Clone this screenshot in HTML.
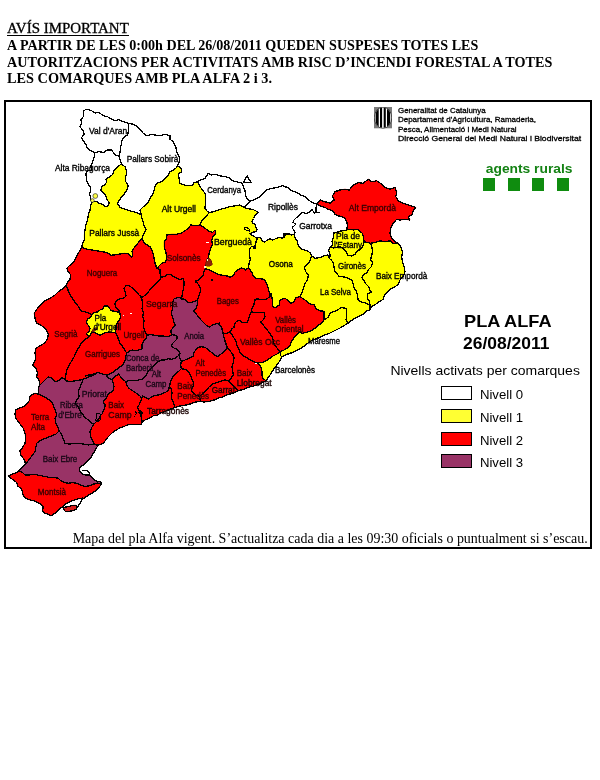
<!DOCTYPE html>
<html><head><meta charset="utf-8">
<style>
html,body{margin:0;padding:0;background:#fff;}
body{width:600px;height:780px;position:relative;overflow:hidden;font-family:"Liberation Sans",sans-serif;color:#000;}
#all{position:absolute;left:0;top:0;width:600px;height:780px;will-change:transform;}
#frame{position:absolute;left:4px;top:100px;width:584px;height:445px;border:2px solid #000;}
svg{position:absolute;left:0;top:0;}
svg text{font-family:"Liberation Sans",sans-serif;}
svg .ml text{font-size:8.4px;}
svg text.s{font-family:"Liberation Serif",serif;}
.sq{position:absolute;top:178.3px;width:12px;height:12.5px;background:#0f8c0f;}
.lb{position:absolute;left:441.3px;width:29px;height:12px;border:1px solid #000;}
</style></head><body><div id="all">
<div id="frame"></div>
<div class="sq" style="left:483.3px"></div><div class="sq" style="left:507.7px"></div><div class="sq" style="left:532.1px"></div><div class="sq" style="left:556.6px"></div>
<div class="lb" style="top:386.4px;background:#fff"></div>
<div class="lb" style="top:409.2px;background:#ffff33"></div>
<div class="lb" style="top:431.7px;background:#ff0000"></div>
<div class="lb" style="top:454.4px;background:#993366"></div>
<svg id="map" width="600" height="780" viewBox="0 0 600 780">
<path d="M128.3,123.3 123.3,121.7 118.3,119.7 115,120.8 111.7,119.2 107.5,116.7 103.3,115.8 99.2,112.5 95,113 91.7,110.8 86.7,109.2 83.3,110.8 83.3,116.7 80.8,120 81.7,123.3 80,126.7 83.3,130.8 84.2,134.2 81.7,137.5 83.3,140.8 85.8,144.2 87.5,148.3 90.8,150.8 95,152.5 99.2,151.7 103.3,152.5 107.5,150 111.7,150 115,155 119.2,156.3 120,151.7 120.8,146.7 121.7,141.7 123.3,137.5 127.5,135 128.7,130Z M128.3,123.3 128.7,130 127.5,135 123.3,137.5 121.7,141.7 120.8,146.7 120,151.7 119.2,156.3 120.8,162.5 121.7,164.2 125,166.7 126.7,171.7 125.8,176.7 125.8,181.7 128.3,185.8 126.7,190.8 123.3,195 120,199.2 117.5,203.3 120,207.5 125,209.2 130,210.8 135.8,212.5 140,214.2 141.5,214.8 140,210 143.3,206.7 147.5,203.3 150,198.3 153.3,193.3 155,186.7 156.7,183.3 161.7,181.7 165,178.3 168.3,175 170,171.7 172.5,170.8 175.8,168.3 177.5,165.8 179.2,162.5 179.2,156.7 176.7,151.7 175.8,146.7 173.3,141.7 170,139.2 170,135.8 165,134.2 160,135.8 155,135 151.7,134.2 146.7,135.8 143.3,133.3 140.8,130 137.5,126.7 133.3,124.2Z M119.2,156.3 115,155 111.7,150 107.5,150 103.3,152.5 99.2,151.7 95,152.5 94.2,156.7 92.5,162.5 90.8,165.8 91.7,170 87.5,170.8 85.8,174.2 86.2,175.8 86.7,180.8 88.3,184.2 90.4,187.5 90.4,191.7 89.2,195 90.8,195.8 90.7,199.2 91.7,202.1 95.8,201.2 99.2,203.3 102.5,204.2 105.8,206.7 108.3,205.8 109.2,202.5 106.7,199.2 105.8,195.8 103.3,192.5 100.8,190 102.1,186.2 105,185 106.7,181.7 105.8,179.2 109.2,177.1 112.5,174.6 114.2,170 118.3,165.8 121.7,164.2 120.8,162.5Z M250.6,201 247.5,199.2 245.8,195.8 245,190.8 243.3,186.7 242.5,183.3 240,182.5 235.8,181.7 232.5,180.8 229.2,177.5 225,176.7 220,175.8 215.8,174.2 211.7,175 208.3,173.3 205,178.3 200.8,180 197.5,181.7 199.2,185 201.7,189.2 205,193.3 205.8,198.3 205.3,203.3 205,208.3 207.5,211.7 209.2,212.5 213.3,211.7 218.3,210 224.2,208.3 230,206.7 235,205.8 240,205 244.2,207.3 248.3,203.3Z M250.6,201 248.3,203.3 244.2,207.3 247,208.5 250,209 253,209.5 256,211 258.5,212.5 256.5,213.5 254.5,216 253.5,218.5 252,221 252.5,223.5 255,224 255.5,227 257,229.5 256.5,231.5 254,232 251.5,233 250,233.5 251.5,235 254,236.5 256.8,238 259.5,237.5 261.5,239 262.5,241.5 265,242 267,240 270,239 273,240 276,238.5 279,237.5 282,238 284,237.5 284.5,234.5 287,234 290,234 291.7,235 294.2,234 295,232.5 293.5,230 292,227 294,226 296,224 293,222.5 294,220 296.5,217.5 299,215.5 301,213 303.5,212.5 306,213.5 309.5,212 311,210 312.5,210 314,213 316,212.5 316,208 316.5,204.2 312.5,202.5 308.3,200 305,196.7 300.8,195 296.7,192.5 291.7,190.8 287.5,187.5 282.5,185.8 277.5,187.5 271.7,188.3 266.7,190 264.2,192.5 260,196.7 255,199.2Z M247,175.8 243.3,182.5 251.3,182.8Z M316.5,204.2 316,208 316,212.5 314,213 312.5,210 311,210 309.5,212 306,213.5 303.5,212.5 301,213 299,215.5 296.5,217.5 294,220 293,222.5 296,224 294,226 292,227 293.5,230 295,232.5 294.2,234 295,237.5 297.5,241.7 298.3,245.8 301.7,249.2 306.7,250.8 310,252.5 311.7,255.8 315,258.3 320,257.5 324.2,255.8 327.5,255 329.2,257.5 329.7,259.3 330,254.7 328.7,250.7 330,247.3 332.7,245.3 332,241.3 333.3,237.3 334,232.7 338,232 342,230.7 346.7,230 347.5,225.8 346.7,221.7 345,218.3 341.7,216.7 338.3,215.8 335,214.2 332.5,210.8 328.3,209.2 325,207.5 320,206Z" fill="#ffffff" stroke="#ffffff" stroke-width="0.7"/>
<path d="M121.7,164.2 118.3,165.8 114.2,170 112.5,174.6 109.2,177.1 105.8,179.2 106.7,181.7 105,185 102.1,186.2 100.8,190 103.3,192.5 105.8,195.8 106.7,199.2 109.2,202.5 108.3,205.8 105.8,206.7 102.5,204.2 99.2,203.3 95.8,201.2 91.7,202.1 90.8,205 90,210 88.3,215 87.5,220 85.8,225 85,230 84.2,235 84.2,240 82.5,244.2 81.7,247.5 86.7,249.2 91.7,250 96.7,250.8 100,251.3 104,252 108,253.3 111.3,255.3 116,254.7 120,254 124.7,253.3 128.7,254 131.3,257.3 132.7,255.3 132,251.3 134,248 136.7,244.7 139.3,241.3 142,239 142.7,236 144.7,232.7 146,229.3 144,226 143.3,222 142,218.7 141.5,214.8 140,214.2 135.8,212.5 130,210.8 125,209.2 120,207.5 117.5,203.3 120,199.2 123.3,195 126.7,190.8 128.3,185.8 125.8,181.7 125.8,176.7 126.7,171.7 125,166.7Z M197.5,181.7 194.2,182.5 192.5,185 188.3,185.8 184.2,185 180,183.3 179.2,179.2 178.3,174.2 181.7,171.7 180.8,167.5 177.5,165.8 175.8,168.3 172.5,170.8 170,171.7 168.3,175 165,178.3 161.7,181.7 156.7,183.3 155,186.7 153.3,193.3 150,198.3 147.5,203.3 143.3,206.7 140,210 141.5,214.8 142,218.7 143.3,222 144,226 146,229.3 144.7,232.7 142.7,236 142,239 144,242.7 146.7,244.7 150,246.7 152,250 153.3,254 154,258 154.7,262 156,266 157,268.3 159.2,265.8 161.7,263.3 165.8,261.7 166.7,257.5 165.8,251.7 164.2,246.7 164.2,241.7 166.7,239.2 166.7,235 171.7,234.2 176.7,234.2 180.8,233.3 185,230.8 188.3,228.3 190.8,225 195.8,225.8 200,225 201.7,220.8 204.2,218.3 206.7,215.8 209.2,212.5 207.5,211.7 205,208.3 205.3,203.3 205.8,198.3 205,193.3 201.7,189.2 199.2,185Z M244.2,207.3 240,205 235,205.8 230,206.7 224.2,208.3 218.3,210 213.3,211.7 209.2,212.5 206.7,215.8 204.2,218.3 201.7,220.8 200,225 204.2,227.5 208.3,230.8 212.5,232.5 215,230 215.8,233.3 213.3,235.8 211.7,240 212.5,244.2 210.8,248.3 209.2,253.3 208.3,257.5 206.7,261.7 205.8,265.8 205.5,268.5 209,270 212.3,271.3 215.7,273.3 219,274.7 223,275.3 227,276 230.3,277.3 233.7,275.3 235,272 237.7,270 241,268 243.7,268.7 245.7,270 248.3,267.8 249,264 250.3,260 249.7,256 249.5,255 249.5,251 250,248 251.5,246.5 254,247 255.5,244.5 256,242 257,239.5 256.8,238 254,236.5 251.5,235 250,233.5 251.5,233 254,232 256.5,231.5 257,229.5 255.5,227 255,224 252.5,223.5 252,221 253.5,218.5 254.5,216 256.5,213.5 258.5,212.5 256,211 253,209.5 250,209 247,208.5Z M294.2,234 291.7,235 290,234 287,234 284.5,234.5 284,237.5 282,238 279,237.5 276,238.5 273,240 270,239 267,240 265,242 262.5,241.5 261.5,239 259.5,237.5 256.8,238 257,239.5 256,242 255.5,244.5 254,247 251.5,246.5 250,248 249.5,251 249.5,255 249.7,256 250.3,260 249,264 248.3,267.8 250.3,270 252.3,273.3 253.7,276.7 256.3,278.7 260.3,278.7 264.3,279.3 266.3,282.7 267.7,286.7 269,291.3 270.018,294.981 270.8,293.3 272.5,300 272.5,306.7 275.8,307.5 279.2,305 280,300 285,298.3 288.3,300.8 290.8,303.3 294.2,301.7 295.8,297.5 300,296.7 301.7,293.3 303.3,288.3 305,283.3 307.5,280 308.3,275 305.8,271.7 304.2,267.5 307.5,264.2 310,260.8 311.7,255.8 310,252.5 306.7,250.8 301.7,249.2 298.3,245.8 297.5,241.7 295,237.5Z M329.7,259.3 329.2,257.5 327.5,255 324.2,255.8 320,257.5 315,258.3 311.7,255.8 310,260.8 307.5,264.2 304.2,267.5 305.8,271.7 308.3,275 307.5,280 305,283.3 303.3,288.3 301.7,293.3 300,296.7 305,300 310,304 314,304.7 316,308.7 319.3,310.7 324,311.3 324,315.3 324,320 326,318.7 328.7,316.7 330,313.3 332,312 335.3,311.3 338.7,309.3 341.3,307.3 346.7,308.7 346.7,312 346.7,316 346,320 348,323.3 351.3,320.7 355.3,318 359.3,316 363.3,314 367.3,310.7 370,309.7 370,305.3 368.7,304.7 365.3,302.7 361.3,302 358,300 358,298.7 357.3,294.7 356,290.7 354,288 353.3,284 352,280 348.7,278.7 345.3,277.3 342,276.7 338.7,276 336.7,273.3 334.7,270.7 334,266.7 333.3,262.7 331.3,260Z M346.7,230 342,230.7 338,232 334,232.7 333.3,237.3 332,241.3 332.7,245.3 330,247.3 333.3,248 336.7,247.3 340,246.7 343.3,248.7 346,251.3 348,255.3 351.3,256 354.7,254.7 356.7,251.3 359.3,250 362.7,246.7 364.2,241.7 363.3,236.7 362.5,233.3 360,231.7 357.5,229.2 353.3,230 349.2,229.2Z M330,247.3 328.7,250.7 330,254.7 329.7,259.3 331.3,260 333.3,262.7 334,266.7 334.7,270.7 336.7,273.3 338.7,276 342,276.7 345.3,277.3 348.7,278.7 352,280 353.3,284 354,288 356,290.7 357.3,294.7 358,298.7 358,300 361.3,302 365.3,302.7 368.7,304.7 370,305.3 369.3,301.3 367.3,298 367.3,294 371.3,292 370,290.7 368.7,286.7 366,284 364,280.7 362,278 363.3,274.7 367.3,272.7 368.7,269.3 371.3,266.7 372.7,262.7 370.7,260 371.3,256 372.7,252 372,248 370.7,243.3 367.5,242.5 364.2,241.7 362.7,246.7 359.3,250 356.7,251.3 354.7,254.7 351.3,256 348,255.3 346,251.3 343.3,248.7 340,246.7 336.7,247.3 333.3,248Z M398.3,243.3 393.3,243.3 390,240.8 385,241.7 380,240.8 375,242.5 370.7,243.3 372,248 372.7,252 371.3,256 370.7,260 372.7,262.7 371.3,266.7 368.7,269.3 367.3,272.7 363.3,274.7 362,278 364,280.7 366,284 368.7,286.7 370,290.7 371.3,292 367.3,294 367.3,298 369.3,301.3 370,305.3 370,309.7 371.7,306.7 375.8,304.2 379.2,301.7 383.3,299.2 384.2,295.8 386.7,292.5 390,289.2 394.2,287.5 398.3,284.2 400,280 403.3,275.8 405,271.7 404.2,266.7 402.5,261.7 401.7,256.7 402.5,251.7 400.8,246.7Z M348,323.3 346,320 346.7,316 346.7,312 346.7,308.7 341.3,307.3 338.7,309.3 335.3,311.3 332,312 330,313.3 328.7,316.7 326,318.7 324,320 322.7,322 319.3,324.7 316,327.3 312.7,330 309.3,331.3 305.3,332.7 302,333.3 300,331.3 298,333.3 295.3,336 293.3,338.7 291.3,342 290,345.3 287.3,348 284,350 281.3,351.3 280,352.4 280.8,355.8 282,356.7 284.7,355.3 288,354 292,352.7 296,350.7 300,348.7 303.3,346.7 306.7,344 309.3,342 312.7,340 316,338.7 320,337.3 324,335.3 328,334 332,332 336,330 340,328 343.3,326Z M115.3,332.4 116,329.3 116,326 117.3,322.7 119.3,320 120.7,316.7 120,314 118,312 114.7,311.3 111.3,310.7 109.3,308 107.3,306 104,306 102.7,308.7 100,310 97.3,312 94,312.7 92,314.7 90.7,317.3 88,318.7 86.7,321.3 86.7,323.3 88.7,326 90,328.7 89.3,331.3 86.7,333.3 87.3,335.3 89.3,336.7 90.7,334 92,332 94.7,332.7 97.3,334 100,335.3 102.7,334 105.3,332.7 108.7,332 112,332.7Z M266,380.7 267.5,378.3 270,375 272.5,370.8 275.8,366.7 279.2,361.7 282,356.7 280.8,355.8 280,352.4 276.7,354.2 273.3,355.8 270,358.3 265.8,360.8 262.5,362.5 256.5,363 259.3,364.7 261.3,368 262,372 262,376 263.3,378.7Z" fill="#ffff00" stroke="#ffff00" stroke-width="0.7"/>
<path d="M316.5,204.2 320,206 325,207.5 328.3,209.2 332.5,210.8 335,214.2 338.3,215.8 341.7,216.7 345,218.3 346.7,221.7 347.5,225.8 346.7,230 349.2,229.2 353.3,230 357.5,229.2 360,231.7 362.5,233.3 363.3,236.7 364.2,241.7 367.5,242.5 370.7,243.3 375,242.5 380,240.8 385,241.7 390,240.8 393.3,243.3 398.3,243.3 395,241.7 391.7,238.3 390,233.3 390.8,228.3 393.3,223.3 396.7,219.2 400,220 405,219.2 410,220 408.3,216.7 411.7,215 413.3,210.8 415.8,207.5 413.3,206.7 408.3,205 403.3,203.3 398.3,200.8 395.8,196.7 396.7,191.7 395,187.5 390,189.2 385,187.5 381.7,184.2 376.7,180.8 371.7,181.7 368.3,179.2 363.3,183.3 358.3,182.5 353.3,185 349.2,190 345,189.2 340,190 335,191.7 332.5,195.8 334.2,200 330,203.3 325,201.7 320,200Z M324,320 324,315.3 324,311.3 319.3,310.7 316,308.7 314,304.7 310,304 305,300 300,296.7 295.8,297.5 294.2,301.7 290.8,303.3 288.3,300.8 285,298.3 280,300 279.2,305 275.8,307.5 272.5,306.7 272.5,300 270.8,293.3 270.018,294.981 270.3,296 268.8,297.6 265.5,299.3 260.8,299.9 257.3,298.8 255,299.9 254.4,302.8 253.3,306.3 251.5,309.8 251.3,311.6 253.8,312.8 258.5,312.8 264.3,312.8 264.9,316.3 263.2,319.8 260.8,322.1 263.2,325 265.5,327.9 267.8,330.8 270.2,333.8 271.9,336.7 273.1,339.6 273.7,342.5 274.8,345.4 277.2,348.3 279.5,350.7 280,352.4 281.3,351.3 284,350 287.3,348 290,345.3 291.3,342 293.3,338.7 295.3,336 298,333.3 300,331.3 302,333.3 305.3,332.7 309.3,331.3 312.7,330 316,327.3 319.3,324.7 322.7,322Z M248.3,267.8 245.7,270 243.7,268.7 241,268 237.7,270 235,272 233.7,275.3 230.3,277.3 227,276 223,275.3 219,274.7 215.7,273.3 212.3,271.3 209,270 205.5,268.5 204,271 203.3,275 201.3,277.7 198.7,279.7 195.3,281.7 197.3,283 199.3,285.7 200.7,289 200,293 198.7,296.3 197.3,300.3 197.3,304.3 196,308.3 193.3,311 196,313.7 198.7,317 201.3,320.3 204,323 206.7,325.7 209.3,327 212.7,325 216,323.7 220,323 218.7,324 221.3,326.7 222.7,331.3 223.1,333.3 227,333.2 230,331.6 231.7,329.1 234,327.3 234.6,324.4 236.3,321.5 239.3,320.3 241.6,322.1 243.9,322.7 247.4,322.1 248.6,319.2 249.8,315.1 251.3,311.6 251.5,309.8 253.3,306.3 254.4,302.8 255,299.9 257.3,298.8 260.8,299.9 265.5,299.3 268.8,297.6 270.018,294.981 269,291.3 267.7,286.7 266.3,282.7 264.3,279.3 260.3,278.7 256.3,278.7 253.7,276.7 252.3,273.3 250.3,270Z M142,239 139.3,241.3 136.7,244.7 134,248 132,251.3 132.7,255.3 131.3,257.3 128.7,254 124.7,253.3 120,254 116,254.7 111.3,255.3 108,253.3 104,252 100,251.3 96.7,250.8 91.7,250 86.7,249.2 81.7,247.5 79.2,251.7 76.7,255.8 75,260 72.5,263.3 69.2,265.8 66.7,268.3 68.3,271.7 70.8,275 70,279.2 67.5,282.5 66.3,285.3 68,290 70,294.7 72.7,298.7 75.3,302.7 78,306 80,309.3 82,311.3 85.3,312 88.7,312.9 92,314.7 94,312.7 97.3,312 100,310 102.7,308.7 104,306 107.3,306 109.3,308 111.3,310.7 114.7,311.3 118,312 120,314 118.7,310 116,307.3 114.7,304 116.7,300.7 120,298.7 124,298 126,296 125.3,292 124,288.7 126,285.3 129.3,286 132.7,288 136,291.3 138.7,294.7 140.9,296.7 142.7,297 145.3,295 148,292.3 150.7,289 153.3,286.3 156,283.7 158.7,281 161.3,277.7 160.7,276.3 160,273 160,269.7 157,268.3 156,266 154.7,262 154,258 153.3,254 152,250 150,246.7 146.7,244.7 144,242.7Z M200,225 195.8,225.8 190.8,225 188.3,228.3 185,230.8 180.8,233.3 176.7,234.2 171.7,234.2 166.7,235 166.7,239.2 164.2,241.7 164.2,246.7 165.8,251.7 166.7,257.5 165.8,261.7 161.7,263.3 159.2,265.8 157,268.3 160,269.7 160,273 160.7,276.3 161.3,277.7 164.7,276.3 168,274.3 171.3,275 174,277 177.3,278.3 180,279.7 182.7,278.3 184,281 184,285 183.3,289 182.7,292.3 182,295.7 181.6,298.3 184.7,299.7 187.3,301.7 190,303 192.7,301.7 195.3,301 197.3,300.3 198.7,296.3 200,293 200.7,289 199.3,285.7 197.3,283 195.3,281.7 198.7,279.7 201.3,277.7 203.3,275 204,271 205.5,268.5 205.8,265.8 206.7,261.7 208.3,257.5 209.2,253.3 210.8,248.3 212.5,244.2 211.7,240 213.3,235.8 215.8,233.3 215,230 212.5,232.5 208.3,230.8 204.2,227.5Z M181.6,298.3 182,295.7 182.7,292.3 183.3,289 184,285 184,281 182.7,278.3 180,279.7 177.3,278.3 174,277 171.3,275 168,274.3 164.7,276.3 161.3,277.7 158.7,281 156,283.7 153.3,286.3 150.7,289 148,292.3 145.3,295 142.7,297 140.9,296.7 142,300 142.7,304.7 142,308.7 143.3,312.7 142.7,316.7 144,320.7 143.3,324.7 144,328.7 145.3,332 147.3,335 151.3,334.7 155.3,335.3 159.3,336 163.3,336 167.3,336.7 170,336 172,334.7 171.3,333.3 170.7,330.7 172.7,328 175.3,325.3 174,322.3 173.3,319 172,315.7 171.3,312.3 172.7,309 172,305.7 172.7,302.3 174,299 176.7,297.7 179.3,297.7Z M92,314.7 88.7,312.9 85.3,312 82,311.3 80,309.3 78,306 75.3,302.7 72.7,298.7 70,294.7 68,290 66.3,285.3 63.3,288.3 58.3,291.7 55,295 50,298.3 45,300.8 41.7,304.2 37.5,308.3 34.2,313.3 35,318.3 36.7,323.3 41.7,325.8 45.8,329.2 48.3,334.2 47.5,339.2 44.2,343.3 40,345.8 35.8,348.3 35,353.3 35.8,358.3 34.2,362.5 32.5,365 35.8,368.3 37.5,372.5 36.7,376.7 39.2,380.8 40,384.2 39.2,385.8 42.5,382.5 45.8,379.2 48.3,376.7 51.7,378.3 55,381.7 58.3,380.8 61.7,377.5 65,379.2 65.8,380.8 65.8,375 66.7,370 69.2,365 71.7,360.8 74.2,356.7 75.8,352.5 78.3,348.3 80.8,344.2 83.3,340.8 86.7,338.3 89.3,336.7 87.3,335.3 86.7,333.3 89.3,331.3 90,328.7 88.7,326 86.7,323.3 86.7,321.3 88,318.7 90.7,317.3Z M140.9,296.7 138.7,294.7 136,291.3 132.7,288 129.3,286 126,285.3 124,288.7 125.3,292 126,296 124,298 120,298.7 116.7,300.7 114.7,304 116,307.3 118.7,310 120,314 120.7,316.7 119.3,320 117.3,322.7 116,326 116,329.3 115.3,332.4 117.3,336 118.7,340 120,343.3 122.7,346.7 124.7,350 126.7,353 129.3,351.3 132,350 135.3,350.7 138.7,350 142,348.7 142,344.7 143.3,341.3 146,338.7 147.3,335 145.3,332 144,328.7 143.3,324.7 144,320.7 142.7,316.7 143.3,312.7 142,308.7 142.7,304.7 142,300Z M115.3,332.4 112,332.7 108.7,332 105.3,332.7 102.7,334 100,335.3 97.3,334 94.7,332.7 92,332 90.7,334 89.3,336.7 86.7,338.3 83.3,340.8 80.8,344.2 78.3,348.3 75.8,352.5 74.2,356.7 71.7,360.8 69.2,365 66.7,370 65.8,375 65.8,380.8 70,381.7 75,380.8 80,380 83.3,379.2 87.5,377.5 91.7,375.8 95.8,374.2 85.3,376 89.3,374.9 93.3,374 96,373.3 98,372 100,373.3 103.3,374.4 106.7,374.9 109.2,374.2 112.5,372.5 115.8,370 119.2,367.5 122.5,365 125,360.8 125.8,355.8 126.7,353 124.7,350 122.7,346.7 120,343.3 118.7,340 117.3,336Z M126,382 124.7,380.7 122,378.7 120,376 118.7,374 116.7,375.3 114,377.3 112,379.7 113.3,383.3 114,386.7 113.3,390 111.3,392 108.7,393.3 107.3,396 106,398.7 104,400.7 103.3,402.7 105.3,404.7 104.7,408 103.3,411.3 102,414 100,416 98.7,418.7 97.3,420.7 95.3,422.7 94,424 91.7,427.5 90,431.7 90.8,436.7 92.5,440.8 94.2,444.2 95.8,444.7 98,445.3 103.3,443.3 105.8,440 108.3,436.7 111.7,433.3 115,430.8 119.2,428.3 123.3,426.7 127.5,425 131.7,424.2 135.8,424.2 141,424.5 142,420.7 141.3,417.3 140.7,414 140,412 138.7,410 137.3,407.3 139.3,404.7 140.7,401.3 141.6,398 140,396 137.3,394 134.7,392 131.3,390 128.7,388 126.7,385.3Z M38.7,394.2 35.8,393.3 32.5,394.2 30,396.7 29.2,400.8 26.7,404.2 23.3,406.7 19.2,408.3 15.8,410 15,414.2 15.8,418.3 18.3,421.7 20.8,425 23.3,428.3 25,433.3 25.8,438.3 25,443.3 22.5,447.5 20,450.8 20.8,455 23.3,458.3 25,461.7 25.3,464.2 27.5,461.7 30,458.3 32.5,455 35,451.7 35.8,447.5 36.7,443.3 40,440.8 43.3,439.2 47.5,437.5 51.7,435.8 55.8,434.2 59.3,430.8 57.5,426.7 55.8,422.5 55,418.3 56.7,415 55.8,411.7 54.2,407.5 52.5,403.3 49.2,400 45.8,397.5 42.5,395.8Z M18.7,470.8 16.7,472.5 12.5,474.2 8.3,475.8 10,477.5 13.3,480 16.7,482.5 17.5,485.8 20.8,488.3 22.5,491.7 23.3,495.8 25.8,498.3 30,500 34.2,500.8 37.5,502.5 40.8,504.2 43.3,506.7 42.5,510.8 45,513.3 48.3,514.2 50.8,515.8 55,513.3 58.3,510 62.5,506.7 66.7,503.3 71.7,500.8 76.7,499.2 82.5,498 84.2,498.3 87.5,495.8 91.7,493.3 95.8,490.8 99.2,487.5 101.3,483.8 97.5,483 93.3,484.2 89.2,485.8 85,486.7 80.8,485 76.7,483.3 72.5,482.5 68.3,483.3 64.2,482.5 60.8,480.8 58.3,478.3 54.2,477.5 50,477.5 45.8,476.7 41.7,475.8 37.5,475 33.3,474.2 29.2,475 25,475 22.5,472.5Z M141,424.5 141.7,422.5 145,420 149.2,418.3 153.3,415.8 157.5,415 160,413.3 164,412 168,410 172,408.7 174.7,407.6 174,404 172.7,400.7 171.3,397.3 172,393.3 171.3,389.3 169.3,386.7 168.7,390 166,392 163.3,393.3 160,394.7 156.7,395.3 153.3,396 150.7,397.3 148.7,399.3 145.3,397.3 142.7,396 141.6,398 140.7,401.3 139.3,404.7 137.3,407.3 138.7,410 140,412 140.7,414 141.3,417.3 142,420.7Z M174.7,407.6 176,407.3 180,406 184,405.3 188,404.7 192,403.3 196,402 200.5,401 199.5,396.5 196,395.3 193.3,393.3 191.3,390.7 192.7,387.3 194,384 192.7,380.7 191.3,377.3 190,374 188,371.3 185.3,369.3 181.3,368.7 178.7,371.3 176,373.3 173.3,376 171.3,380 170,384 169.3,386.7 171.3,389.3 172,393.3 171.3,397.3 172.7,400.7 174,404Z M200.5,401 204,402 208,401.6 212,400.7 216,399.3 220,397.3 222,397.3 226,395.3 230,394 234,392.7 238.7,390.7 236,388.7 233.3,386 230.7,383.3 228.7,380.7 225.3,380 222,380.7 218.7,382 212.7,384 209.3,386.7 206.7,390 204,392.7 201.3,394.7 199.5,396.5Z M238.7,390.7 243.3,389.3 248.7,387.3 253.3,386 258,384.7 262,382.7 266,380.7 263.3,378.7 262,376 262,372 261.3,368 259.3,364.7 256.5,363 252.7,361.3 249.3,359.3 246,357.3 242.7,355.3 240,352.7 238.7,348.7 236.7,345.3 236,341.3 234,338 232,334.7 230,331.6 227,333.2 223.1,333.3 223.3,335.3 224.7,340 226,344 227.3,347.3 230,350.7 232.7,354 234,358 233.3,362.7 232,366.7 232.7,370.7 233.3,374.7 231.3,378 228.7,380.7 230.7,383.3 233.3,386 236,388.7Z M280,352.4 279.5,350.7 277.2,348.3 274.8,345.4 273.7,342.5 273.1,339.6 271.9,336.7 270.2,333.8 267.8,330.8 265.5,327.9 263.2,325 260.8,322.1 263.2,319.8 264.9,316.3 264.3,312.8 258.5,312.8 253.8,312.8 251.3,311.6 249.8,315.1 248.6,319.2 247.4,322.1 243.9,322.7 241.6,322.1 239.3,320.3 236.3,321.5 234.6,324.4 234,327.3 231.7,329.1 230,331.6 232,334.7 234,338 236,341.3 236.7,345.3 238.7,348.7 240,352.7 242.7,355.3 246,357.3 249.3,359.3 252.7,361.3 256.5,363 262.5,362.5 265.8,360.8 270,358.3 273.3,355.8 276.7,354.2Z M227.3,347.3 225.3,350.7 222,353.3 219.3,355.3 217.3,356.7 215.3,355.3 212.7,353.3 210,351.3 207.3,348.7 204.7,347.3 201.3,346.7 198.7,347.3 196,349.3 194,352.7 193.3,356 191.3,357.3 186.7,359.2 183.3,360.8 181.2,361.3 180.7,365.3 181.3,368.7 185.3,369.3 188,371.3 190,374 191.3,377.3 192.7,380.7 194,384 192.7,387.3 191.3,390.7 193.3,393.3 196,395.3 199.5,396.5 201.3,394.7 204,392.7 206.7,390 209.3,386.7 212.7,384 218.7,382 222,380.7 225.3,380 228.7,380.7 231.3,378 233.3,374.7 232.7,370.7 232,366.7 233.3,362.7 234,358 232.7,354 230,350.7Z" fill="#ff0000" stroke="#ff0000" stroke-width="0.7"/>
<path d="M197.3,300.3 195.3,301 192.7,301.7 190,303 187.3,301.7 184.7,299.7 181.6,298.3 179.3,297.7 176.7,297.7 174,299 172.7,302.3 172,305.7 172.7,309 171.3,312.3 172,315.7 173.3,319 174,322.3 175.3,325.3 172.7,328 170.7,330.7 171.3,333.3 172,334.7 175.3,335.3 177.3,336.7 176.7,339.3 174.7,341.3 172.7,343.3 171.3,346 174,348 176.7,349.3 178.7,351.3 180,352.7 179.3,356.7 181.2,361.3 183.3,360.8 186.7,359.2 191.3,357.3 193.3,356 194,352.7 196,349.3 198.7,347.3 201.3,346.7 204.7,347.3 207.3,348.7 210,351.3 212.7,353.3 215.3,355.3 217.3,356.7 219.3,355.3 222,353.3 225.3,350.7 227.3,347.3 226,344 224.7,340 223.3,335.3 223.1,333.3 222.7,331.3 221.3,326.7 218.7,324 220,323 216,323.7 212.7,325 209.3,327 206.7,325.7 204,323 201.3,320.3 198.7,317 196,313.7 193.3,311 196,308.3 197.3,304.3Z M172,334.7 170,336 167.3,336.7 163.3,336 159.3,336 155.3,335.3 151.3,334.7 147.3,335 146,338.7 143.3,341.3 142,344.7 142,348.7 138.7,350 135.3,350.7 132,350 129.3,351.3 126.7,353 125.8,355.8 125,360.8 122.5,365 119.2,367.5 115.8,370 112.5,372.5 109.2,374.2 106.7,374.9 107.3,377.3 110,378.7 112,379.7 114,377.3 116.7,375.3 118.7,374 120,376 122,378.7 124.7,380.7 126,382 128,380.7 131.3,380.3 135.3,380.7 138.7,380 142,379.3 144.7,377.3 146.7,374.7 148,371.3 150.7,368.7 153.3,366 156,363.3 158.7,361.3 161.3,360 164.7,360 168,358.7 171.3,359.3 175.3,358 178,356 180,352.7 178.7,351.3 176.7,349.3 174,348 171.3,346 172.7,343.3 174.7,341.3 176.7,339.3 177.3,336.7 175.3,335.3Z M180,352.7 178,356 175.3,358 171.3,359.3 168,358.7 164.7,360 161.3,360 158.7,361.3 156,363.3 153.3,366 150.7,368.7 148,371.3 146.7,374.7 144.7,377.3 142,379.3 138.7,380 135.3,380.7 131.3,380.3 128,380.7 126,382 126.7,385.3 128.7,388 131.3,390 134.7,392 137.3,394 140,396 141.6,398 142.7,396 145.3,397.3 148.7,399.3 150.7,397.3 153.3,396 156.7,395.3 160,394.7 163.3,393.3 166,392 168.7,390 169.3,386.7 170,384 171.3,380 173.3,376 176,373.3 178.7,371.3 181.3,368.7 180.7,365.3 181.2,361.3 179.3,356.7Z M112,379.7 110,378.7 107.3,377.3 106.7,374.9 103.3,374.4 100,373.3 98,372 96,373.3 93.3,374 89.3,374.9 85.3,376 95.8,374.2 91.7,375.8 87.5,377.5 83.3,379.2 81.7,383.3 80,387.5 78.3,391.7 79.2,396.7 76.7,400 75,403.3 78.3,406.7 80,410.8 82.5,414.2 85,417.5 88.3,420 90.8,422.5 94,424 95.3,422.7 97.3,420.7 98.7,418.7 100,416 102,414 103.3,411.3 104.7,408 105.3,404.7 103.3,402.7 104,400.7 106,398.7 107.3,396 108.7,393.3 111.3,392 113.3,390 114,386.7 113.3,383.3Z M65.8,380.8 65,379.2 61.7,377.5 58.3,380.8 55,381.7 51.7,378.3 48.3,376.7 45.8,379.2 42.5,382.5 39.2,385.8 38.3,390 38.7,394.2 42.5,395.8 45.8,397.5 49.2,400 52.5,403.3 54.2,407.5 55.8,411.7 56.7,415 55,418.3 55.8,422.5 57.5,426.7 59.3,430.8 61.7,435 63.3,439.2 65,443.3 69.2,444.2 74.2,443.3 79.2,443.3 84.2,444.2 88.3,445 94.2,444.2 92.5,440.8 90.8,436.7 90,431.7 91.7,427.5 94,424 90.8,422.5 88.3,420 85,417.5 82.5,414.2 80,410.8 78.3,406.7 75,403.3 76.7,400 79.2,396.7 78.3,391.7 80,387.5 81.7,383.3 83.3,379.2 80,380 75,380.8 70,381.7Z M98,445.3 95.8,444.7 94.2,444.2 88.3,445 84.2,444.2 79.2,443.3 74.2,443.3 69.2,444.2 65,443.3 63.3,439.2 61.7,435 59.3,430.8 55.8,434.2 51.7,435.8 47.5,437.5 43.3,439.2 40,440.8 36.7,443.3 35.8,447.5 35,451.7 32.5,455 30,458.3 27.5,461.7 25.3,464.2 22.5,466.7 20,469.2 18.7,470.8 22.5,472.5 25,475 29.2,475 33.3,474.2 37.5,475 41.7,475.8 45.8,476.7 50,477.5 54.2,477.5 58.3,478.3 60.8,480.8 64.2,482.5 68.3,483.3 72.5,482.5 76.7,483.3 80.8,485 85,486.7 89.2,485.8 93.3,484.2 97.5,483 101.3,483.8 100.8,481.7 97.5,481.7 94.2,480 91.7,477.5 89.2,475 85.8,475 82.5,474.2 80,471.7 79.2,469.2 80.8,466.7 84.2,464.2 87.5,460.8 90.8,457.5 93.3,453.3 95.8,449.2Z" fill="#993366" stroke="#993366" stroke-width="0.7"/>
<path d="M77.5,506.8 75.5,505.3 73,505.4 70.5,506.1 68,506.7 65.5,507.1 63.4,508 63.8,509.6 65.2,511.2 67.5,511.6 70.5,511.1 73.5,510.5 76.2,509Z" fill="#d81c1c" stroke="#d81c1c" stroke-width="0.7"/>
<path d="M95,152.5 90.8,150.8 87.5,148.3 85.8,144.2 83.3,140.8 81.7,137.5 84.2,134.2 83.3,130.8 80,126.7 81.7,123.3 80.8,120 83.3,116.7 83.3,110.8 86.7,109.2 91.7,110.8 95,113 99.2,112.5 103.3,115.8 107.5,116.7 111.7,119.2 115,120.8 118.3,119.7 123.3,121.7 128.3,123.3 M128.3,123.3 128.7,130 127.5,135 123.3,137.5 121.7,141.7 120.8,146.7 120,151.7 119.2,156.3 M119.2,156.3 115,155 111.7,150 107.5,150 103.3,152.5 99.2,151.7 95,152.5 M119.2,156.3 120.8,162.5 121.7,164.2 M95,152.5 94.2,156.7 92.5,162.5 90.8,165.8 91.7,170 87.5,170.8 85.8,174.2 86.2,175.8 86.7,180.8 88.3,184.2 90.4,187.5 90.4,191.7 89.2,195 90.8,195.8 90.7,199.2 91.7,202.1 M91.7,202.1 95.8,201.2 99.2,203.3 102.5,204.2 105.8,206.7 108.3,205.8 109.2,202.5 106.7,199.2 105.8,195.8 103.3,192.5 100.8,190 102.1,186.2 105,185 106.7,181.7 105.8,179.2 109.2,177.1 112.5,174.6 114.2,170 118.3,165.8 121.7,164.2 M121.7,164.2 125,166.7 126.7,171.7 125.8,176.7 125.8,181.7 128.3,185.8 126.7,190.8 123.3,195 120,199.2 117.5,203.3 120,207.5 125,209.2 130,210.8 135.8,212.5 140,214.2 141.5,214.8 M128.3,123.3 133.3,124.2 137.5,126.7 140.8,130 143.3,133.3 146.7,135.8 151.7,134.2 155,135 160,135.8 165,134.2 170,135.8 170,139.2 173.3,141.7 175.8,146.7 176.7,151.7 179.2,156.7 179.2,162.5 177.5,165.8 M177.5,165.8 180.8,167.5 181.7,171.7 178.3,174.2 179.2,179.2 180,183.3 184.2,185 188.3,185.8 192.5,185 194.2,182.5 197.5,181.7 M177.5,165.8 175.8,168.3 172.5,170.8 170,171.7 168.3,175 165,178.3 161.7,181.7 156.7,183.3 155,186.7 153.3,193.3 150,198.3 147.5,203.3 143.3,206.7 140,210 141.5,214.8 M197.5,181.7 200.8,180 205,178.3 208.3,173.3 211.7,175 215.8,174.2 220,175.8 225,176.7 229.2,177.5 232.5,180.8 235.8,181.7 240,182.5 242.5,183.3 243.3,186.7 245,190.8 245.8,195.8 247.5,199.2 250.6,201 M197.5,181.7 199.2,185 201.7,189.2 205,193.3 205.8,198.3 205.3,203.3 205,208.3 207.5,211.7 209.2,212.5 M209.2,212.5 213.3,211.7 218.3,210 224.2,208.3 230,206.7 235,205.8 240,205 244.2,207.3 M250.6,201 248.3,203.3 244.2,207.3 M247,175.8 251.3,182.8 243.3,182.5 247,175.8 M250.6,201 255,199.2 260,196.7 264.2,192.5 266.7,190 271.7,188.3 277.5,187.5 282.5,185.8 287.5,187.5 291.7,190.8 296.7,192.5 300.8,195 305,196.7 308.3,200 312.5,202.5 316.5,204.2 M244.2,207.3 247,208.5 250,209 253,209.5 256,211 258.5,212.5 256.5,213.5 254.5,216 253.5,218.5 252,221 252.5,223.5 255,224 255.5,227 257,229.5 256.5,231.5 254,232 251.5,233 250,233.5 251.5,235 254,236.5 256.8,238 M256.8,238 259.5,237.5 261.5,239 262.5,241.5 265,242 267,240 270,239 273,240 276,238.5 279,237.5 282,238 284,237.5 284.5,234.5 287,234 290,234 291.7,235 294.2,234 M316.5,204.2 316,208 316,212.5 314,213 312.5,210 311,210 309.5,212 306,213.5 303.5,212.5 301,213 299,215.5 296.5,217.5 294,220 293,222.5 296,224 294,226 292,227 293.5,230 295,232.5 294.2,234 M294.2,234 295,237.5 297.5,241.7 298.3,245.8 301.7,249.2 306.7,250.8 310,252.5 311.7,255.8 M311.7,255.8 315,258.3 320,257.5 324.2,255.8 327.5,255 329.2,257.5 329.7,259.3 M311.7,255.8 310,260.8 307.5,264.2 304.2,267.5 305.8,271.7 308.3,275 307.5,280 305,283.3 303.3,288.3 301.7,293.3 300,296.7 M346.7,230 342,230.7 338,232 334,232.7 333.3,237.3 332,241.3 332.7,245.3 330,247.3 M330,247.3 328.7,250.7 330,254.7 329.7,259.3 M316.5,204.2 320,206 325,207.5 328.3,209.2 332.5,210.8 335,214.2 338.3,215.8 341.7,216.7 345,218.3 346.7,221.7 347.5,225.8 346.7,230 M316.5,204.2 320,200 325,201.7 330,203.3 334.2,200 332.5,195.8 335,191.7 340,190 345,189.2 349.2,190 353.3,185 358.3,182.5 363.3,183.3 368.3,179.2 371.7,181.7 376.7,180.8 381.7,184.2 385,187.5 390,189.2 395,187.5 396.7,191.7 395.8,196.7 398.3,200.8 403.3,203.3 408.3,205 413.3,206.7 415.8,207.5 413.3,210.8 411.7,215 408.3,216.7 410,220 405,219.2 400,220 396.7,219.2 393.3,223.3 390.8,228.3 390,233.3 391.7,238.3 395,241.7 398.3,243.3 M398.3,243.3 393.3,243.3 390,240.8 385,241.7 380,240.8 375,242.5 370.7,243.3 M370.7,243.3 367.5,242.5 364.2,241.7 M364.2,241.7 363.3,236.7 362.5,233.3 360,231.7 357.5,229.2 353.3,230 349.2,229.2 346.7,230 M330,247.3 333.3,248 336.7,247.3 340,246.7 343.3,248.7 346,251.3 348,255.3 351.3,256 354.7,254.7 356.7,251.3 359.3,250 362.7,246.7 364.2,241.7 M329.7,259.3 331.3,260 333.3,262.7 334,266.7 334.7,270.7 336.7,273.3 338.7,276 342,276.7 345.3,277.3 348.7,278.7 352,280 353.3,284 354,288 356,290.7 357.3,294.7 358,298.7 358,300 361.3,302 365.3,302.7 368.7,304.7 370,305.3 M370.7,243.3 372,248 372.7,252 371.3,256 370.7,260 372.7,262.7 371.3,266.7 368.7,269.3 367.3,272.7 363.3,274.7 362,278 364,280.7 366,284 368.7,286.7 370,290.7 371.3,292 367.3,294 367.3,298 369.3,301.3 370,305.3 M370,305.3 370,309.7 M398.3,243.3 400.8,246.7 402.5,251.7 401.7,256.7 402.5,261.7 404.2,266.7 405,271.7 403.3,275.8 400,280 398.3,284.2 394.2,287.5 390,289.2 386.7,292.5 384.2,295.8 383.3,299.2 379.2,301.7 375.8,304.2 371.7,306.7 370,309.7 M370,309.7 367.3,310.7 363.3,314 359.3,316 355.3,318 351.3,320.7 348,323.3 M348,323.3 346,320 346.7,316 346.7,312 346.7,308.7 341.3,307.3 338.7,309.3 335.3,311.3 332,312 330,313.3 328.7,316.7 326,318.7 324,320 M300,296.7 305,300 310,304 314,304.7 316,308.7 319.3,310.7 324,311.3 324,315.3 324,320 M256.8,238 257,239.5 256,242 255.5,244.5 254,247 251.5,246.5 250,248 249.5,251 249.5,255 249.7,256 250.3,260 249,264 248.3,267.8 M205.5,268.5 209,270 212.3,271.3 215.7,273.3 219,274.7 223,275.3 227,276 230.3,277.3 233.7,275.3 235,272 237.7,270 241,268 243.7,268.7 245.7,270 248.3,267.8 M248.3,267.8 250.3,270 252.3,273.3 253.7,276.7 256.3,278.7 260.3,278.7 264.3,279.3 266.3,282.7 267.7,286.7 269,291.3 270.3,296 268.8,297.6 M268.8,297.6 270.8,293.3 272.5,300 272.5,306.7 275.8,307.5 279.2,305 280,300 285,298.3 288.3,300.8 290.8,303.3 294.2,301.7 295.8,297.5 300,296.7 M268.8,297.6 265.5,299.3 260.8,299.9 257.3,298.8 255,299.9 254.4,302.8 253.3,306.3 251.5,309.8 251.3,311.6 M141.5,214.8 142,218.7 143.3,222 144,226 146,229.3 144.7,232.7 142.7,236 142,239 M142,239 139.3,241.3 136.7,244.7 134,248 132,251.3 132.7,255.3 131.3,257.3 128.7,254 124.7,253.3 120,254 116,254.7 111.3,255.3 108,253.3 104,252 100,251.3 96.7,250.8 91.7,250 86.7,249.2 81.7,247.5 M142,239 144,242.7 146.7,244.7 150,246.7 152,250 153.3,254 154,258 154.7,262 156,266 157,268.3 M200,225 195.8,225.8 190.8,225 188.3,228.3 185,230.8 180.8,233.3 176.7,234.2 171.7,234.2 166.7,235 166.7,239.2 164.2,241.7 164.2,246.7 165.8,251.7 166.7,257.5 165.8,261.7 161.7,263.3 159.2,265.8 157,268.3 M209.2,212.5 206.7,215.8 204.2,218.3 201.7,220.8 200,225 M200,225 204.2,227.5 208.3,230.8 212.5,232.5 215,230 215.8,233.3 213.3,235.8 211.7,240 212.5,244.2 210.8,248.3 209.2,253.3 208.3,257.5 206.7,261.7 205.8,265.8 205.5,268.5 M157,268.3 160,269.7 160,273 160.7,276.3 161.3,277.7 M161.3,277.7 164.7,276.3 168,274.3 171.3,275 174,277 177.3,278.3 180,279.7 182.7,278.3 184,281 184,285 183.3,289 182.7,292.3 182,295.7 181.6,298.3 M181.6,298.3 184.7,299.7 187.3,301.7 190,303 192.7,301.7 195.3,301 197.3,300.3 M197.3,300.3 198.7,296.3 200,293 200.7,289 199.3,285.7 197.3,283 195.3,281.7 198.7,279.7 201.3,277.7 203.3,275 204,271 205.5,268.5 M161.3,277.7 158.7,281 156,283.7 153.3,286.3 150.7,289 148,292.3 145.3,295 142.7,297 140.9,296.7 M91.7,202.1 90.8,205 90,210 88.3,215 87.5,220 85.8,225 85,230 84.2,235 84.2,240 82.5,244.2 81.7,247.5 M81.7,247.5 79.2,251.7 76.7,255.8 75,260 72.5,263.3 69.2,265.8 66.7,268.3 68.3,271.7 70.8,275 70,279.2 67.5,282.5 66.3,285.3 M66.3,285.3 68,290 70,294.7 72.7,298.7 75.3,302.7 78,306 80,309.3 82,311.3 85.3,312 88.7,312.9 92,314.7 M140.9,296.7 138.7,294.7 136,291.3 132.7,288 129.3,286 126,285.3 124,288.7 125.3,292 126,296 124,298 120,298.7 116.7,300.7 114.7,304 116,307.3 118.7,310 120,314 M120,314 120.7,316.7 119.3,320 117.3,322.7 116,326 116,329.3 115.3,332.4 M120,314 118,312 114.7,311.3 111.3,310.7 109.3,308 107.3,306 104,306 102.7,308.7 100,310 97.3,312 94,312.7 92,314.7 M92,314.7 90.7,317.3 88,318.7 86.7,321.3 86.7,323.3 88.7,326 90,328.7 89.3,331.3 86.7,333.3 87.3,335.3 89.3,336.7 M89.3,336.7 90.7,334 92,332 94.7,332.7 97.3,334 100,335.3 102.7,334 105.3,332.7 108.7,332 112,332.7 115.3,332.4 M140.9,296.7 142,300 142.7,304.7 142,308.7 143.3,312.7 142.7,316.7 144,320.7 143.3,324.7 144,328.7 145.3,332 147.3,335 M181.6,298.3 179.3,297.7 176.7,297.7 174,299 172.7,302.3 172,305.7 172.7,309 171.3,312.3 172,315.7 173.3,319 174,322.3 175.3,325.3 172.7,328 170.7,330.7 171.3,333.3 172,334.7 M147.3,335 151.3,334.7 155.3,335.3 159.3,336 163.3,336 167.3,336.7 170,336 172,334.7 M147.3,335 146,338.7 143.3,341.3 142,344.7 142,348.7 138.7,350 135.3,350.7 132,350 129.3,351.3 126.7,353 M115.3,332.4 117.3,336 118.7,340 120,343.3 122.7,346.7 124.7,350 126.7,353 M172,334.7 175.3,335.3 177.3,336.7 176.7,339.3 174.7,341.3 172.7,343.3 171.3,346 174,348 176.7,349.3 178.7,351.3 180,352.7 M180,352.7 178,356 175.3,358 171.3,359.3 168,358.7 164.7,360 161.3,360 158.7,361.3 156,363.3 153.3,366 150.7,368.7 148,371.3 146.7,374.7 144.7,377.3 142,379.3 138.7,380 135.3,380.7 131.3,380.3 128,380.7 126,382 M180,352.7 179.3,356.7 181.2,361.3 M126.7,353 125.8,355.8 125,360.8 122.5,365 119.2,367.5 115.8,370 112.5,372.5 109.2,374.2 106.7,374.9 M106.7,374.9 107.3,377.3 110,378.7 112,379.7 M112,379.7 114,377.3 116.7,375.3 118.7,374 120,376 122,378.7 124.7,380.7 126,382 M65.8,380.8 65.8,375 66.7,370 69.2,365 71.7,360.8 74.2,356.7 75.8,352.5 78.3,348.3 80.8,344.2 83.3,340.8 86.7,338.3 89.3,336.7 M66.3,285.3 63.3,288.3 58.3,291.7 55,295 50,298.3 45,300.8 41.7,304.2 37.5,308.3 34.2,313.3 35,318.3 36.7,323.3 41.7,325.8 45.8,329.2 48.3,334.2 47.5,339.2 44.2,343.3 40,345.8 35.8,348.3 35,353.3 35.8,358.3 34.2,362.5 32.5,365 35.8,368.3 37.5,372.5 36.7,376.7 39.2,380.8 40,384.2 39.2,385.8 M39.2,385.8 42.5,382.5 45.8,379.2 48.3,376.7 51.7,378.3 55,381.7 58.3,380.8 61.7,377.5 65,379.2 65.8,380.8 M65.8,380.8 70,381.7 75,380.8 80,380 83.3,379.2 M83.3,379.2 87.5,377.5 91.7,375.8 95.8,374.2 85.3,376 89.3,374.9 93.3,374 96,373.3 98,372 100,373.3 103.3,374.4 106.7,374.9 M83.3,379.2 81.7,383.3 80,387.5 78.3,391.7 79.2,396.7 76.7,400 75,403.3 78.3,406.7 80,410.8 82.5,414.2 85,417.5 88.3,420 90.8,422.5 94,424 M112,379.7 113.3,383.3 114,386.7 113.3,390 111.3,392 108.7,393.3 107.3,396 106,398.7 104,400.7 103.3,402.7 105.3,404.7 104.7,408 103.3,411.3 102,414 100,416 98.7,418.7 97.3,420.7 95.3,422.7 94,424 M94,424 91.7,427.5 90,431.7 90.8,436.7 92.5,440.8 94.2,444.2 M94.2,444.2 95.8,444.7 98,445.3 M39.2,385.8 38.3,390 38.7,394.2 M38.7,394.2 35.8,393.3 32.5,394.2 30,396.7 29.2,400.8 26.7,404.2 23.3,406.7 19.2,408.3 15.8,410 15,414.2 15.8,418.3 18.3,421.7 20.8,425 23.3,428.3 25,433.3 25.8,438.3 25,443.3 22.5,447.5 20,450.8 20.8,455 23.3,458.3 25,461.7 25.3,464.2 M38.7,394.2 42.5,395.8 45.8,397.5 49.2,400 52.5,403.3 54.2,407.5 55.8,411.7 56.7,415 55,418.3 55.8,422.5 57.5,426.7 59.3,430.8 M59.3,430.8 55.8,434.2 51.7,435.8 47.5,437.5 43.3,439.2 40,440.8 36.7,443.3 35.8,447.5 35,451.7 32.5,455 30,458.3 27.5,461.7 25.3,464.2 M59.3,430.8 61.7,435 63.3,439.2 65,443.3 69.2,444.2 74.2,443.3 79.2,443.3 84.2,444.2 88.3,445 94.2,444.2 M25.3,464.2 22.5,466.7 20,469.2 18.7,470.8 M18.7,470.8 16.7,472.5 12.5,474.2 8.3,475.8 10,477.5 13.3,480 16.7,482.5 17.5,485.8 20.8,488.3 22.5,491.7 23.3,495.8 25.8,498.3 30,500 34.2,500.8 37.5,502.5 40.8,504.2 43.3,506.7 42.5,510.8 45,513.3 48.3,514.2 50.8,515.8 55,513.3 58.3,510 62.5,506.7 66.7,503.3 71.7,500.8 76.7,499.2 82.5,498 84.2,498.3 87.5,495.8 91.7,493.3 95.8,490.8 99.2,487.5 101.3,483.8 M18.7,470.8 22.5,472.5 25,475 29.2,475 33.3,474.2 37.5,475 41.7,475.8 45.8,476.7 50,477.5 54.2,477.5 58.3,478.3 60.8,480.8 64.2,482.5 68.3,483.3 72.5,482.5 76.7,483.3 80.8,485 85,486.7 89.2,485.8 93.3,484.2 97.5,483 101.3,483.8 M98,445.3 95.8,449.2 93.3,453.3 90.8,457.5 87.5,460.8 84.2,464.2 80.8,466.7 79.2,469.2 80,471.7 82.5,474.2 85.8,475 89.2,475 91.7,477.5 94.2,480 97.5,481.7 100.8,481.7 101.3,483.8 M77.5,506.8 76.2,509 73.5,510.5 70.5,511.1 67.5,511.6 65.2,511.2 63.8,509.6 63.4,508 65.5,507.1 68,506.7 70.5,506.1 73,505.4 75.5,505.3 77.5,506.8 M82.5,498 81.5,501 80,503.5 78.5,505.5 77.5,506.8 M141,424.5 135.8,424.2 131.7,424.2 127.5,425 123.3,426.7 119.2,428.3 115,430.8 111.7,433.3 108.3,436.7 105.8,440 103.3,443.3 98,445.3 M141,424.5 141.7,422.5 145,420 149.2,418.3 153.3,415.8 157.5,415 160,413.3 164,412 168,410 172,408.7 174.7,407.6 M174.7,407.6 176,407.3 180,406 184,405.3 188,404.7 192,403.3 196,402 200.5,401 M200.5,401 204,402 208,401.6 212,400.7 216,399.3 220,397.3 222,397.3 226,395.3 230,394 234,392.7 238.7,390.7 M238.7,390.7 243.3,389.3 248.7,387.3 253.3,386 258,384.7 262,382.7 266,380.7 M266,380.7 267.5,378.3 270,375 272.5,370.8 275.8,366.7 279.2,361.7 282,356.7 M282,356.7 284.7,355.3 288,354 292,352.7 296,350.7 300,348.7 303.3,346.7 306.7,344 309.3,342 312.7,340 316,338.7 320,337.3 324,335.3 328,334 332,332 336,330 340,328 343.3,326 348,323.3 M324,320 322.7,322 319.3,324.7 316,327.3 312.7,330 309.3,331.3 305.3,332.7 302,333.3 300,331.3 298,333.3 295.3,336 293.3,338.7 291.3,342 290,345.3 287.3,348 284,350 281.3,351.3 280,352.4 M280,352.4 280.8,355.8 282,356.7 M251.3,311.6 253.8,312.8 258.5,312.8 264.3,312.8 264.9,316.3 263.2,319.8 260.8,322.1 263.2,325 265.5,327.9 267.8,330.8 270.2,333.8 271.9,336.7 273.1,339.6 273.7,342.5 274.8,345.4 277.2,348.3 279.5,350.7 280,352.4 M280,352.4 276.7,354.2 273.3,355.8 270,358.3 265.8,360.8 262.5,362.5 256.5,363 M256.5,363 259.3,364.7 261.3,368 262,372 262,376 263.3,378.7 266,380.7 M251.3,311.6 249.8,315.1 248.6,319.2 247.4,322.1 243.9,322.7 241.6,322.1 239.3,320.3 236.3,321.5 234.6,324.4 234,327.3 231.7,329.1 230,331.6 M230,331.6 227,333.2 223.1,333.3 M230,331.6 232,334.7 234,338 236,341.3 236.7,345.3 238.7,348.7 240,352.7 242.7,355.3 246,357.3 249.3,359.3 252.7,361.3 256.5,363 M197.3,300.3 197.3,304.3 196,308.3 193.3,311 196,313.7 198.7,317 201.3,320.3 204,323 206.7,325.7 209.3,327 212.7,325 216,323.7 220,323 218.7,324 221.3,326.7 222.7,331.3 223.1,333.3 M223.1,333.3 223.3,335.3 224.7,340 226,344 227.3,347.3 M227.3,347.3 225.3,350.7 222,353.3 219.3,355.3 217.3,356.7 215.3,355.3 212.7,353.3 210,351.3 207.3,348.7 204.7,347.3 201.3,346.7 198.7,347.3 196,349.3 194,352.7 193.3,356 191.3,357.3 186.7,359.2 183.3,360.8 181.2,361.3 M227.3,347.3 230,350.7 232.7,354 234,358 233.3,362.7 232,366.7 232.7,370.7 233.3,374.7 231.3,378 228.7,380.7 M228.7,380.7 225.3,380 222,380.7 218.7,382 212.7,384 209.3,386.7 206.7,390 204,392.7 201.3,394.7 199.5,396.5 M228.7,380.7 230.7,383.3 233.3,386 236,388.7 238.7,390.7 M181.3,368.7 185.3,369.3 188,371.3 190,374 191.3,377.3 192.7,380.7 194,384 192.7,387.3 191.3,390.7 193.3,393.3 196,395.3 199.5,396.5 M199.5,396.5 200.5,401 M181.2,361.3 180.7,365.3 181.3,368.7 M181.3,368.7 178.7,371.3 176,373.3 173.3,376 171.3,380 170,384 169.3,386.7 M169.3,386.7 168.7,390 166,392 163.3,393.3 160,394.7 156.7,395.3 153.3,396 150.7,397.3 148.7,399.3 145.3,397.3 142.7,396 141.6,398 M169.3,386.7 171.3,389.3 172,393.3 171.3,397.3 172.7,400.7 174,404 174.7,407.6 M126,382 126.7,385.3 128.7,388 131.3,390 134.7,392 137.3,394 140,396 141.6,398 M141.6,398 140.7,401.3 139.3,404.7 137.3,407.3 138.7,410 140,412 140.7,414 141.3,417.3 142,420.7 141,424.5" fill="none" stroke="#000" stroke-width="1.3" stroke-linejoin="round" shape-rendering="crispEdges"/>
<path d="M82,470.7 84.5,470.5 86.7,470.5 88.7,471.7 89.5,473.3 88.8,474.8" fill="none" stroke="#000" stroke-width="1.3" shape-rendering="crispEdges"/>
<circle cx="95.3" cy="196" r="2.4" fill="#ffff40" stroke="#333" stroke-width="0.7"/>
<circle cx="92.4" cy="200.5" r="1.8" fill="#ffff40" stroke="#333" stroke-width="0.7"/>
<path d="M245,227.5 247.5,228 249,229 249.5,231.2 247,230.5 244.5,229.5Z" fill="none" stroke="#000" stroke-width="1" shape-rendering="crispEdges"/>
<rect x="283.3" y="233.3" width="3" height="3" fill="#000" shape-rendering="crispEdges"/>
<rect x="252.8" y="245.8" width="3" height="3" fill="#000" shape-rendering="crispEdges"/>
<rect x="159.7" y="275.5" width="2.4" height="2.4" fill="#000" shape-rendering="crispEdges"/>
<rect x="180.6" y="298" width="2.4" height="2.4" fill="#000" shape-rendering="crispEdges"/>
<rect x="194.8" y="280.2" width="2" height="2" fill="#000" shape-rendering="crispEdges"/>
<rect x="211" y="279.3" width="2" height="2" fill="#000" shape-rendering="crispEdges"/>
<path d="M314,212.8 319.5,212.8" fill="none" stroke="#000" stroke-width="1.3" shape-rendering="crispEdges"/>
<path d="M140.7,410.6 142.6,412.7 140.7,414.8 138.8,412.7Z" fill="#000" stroke="#000" stroke-width="1" shape-rendering="crispEdges"/>
<path d="M135,411.5 136.5,413 135.5,415.5 133.8,417" fill="none" stroke="#000" stroke-width="1" shape-rendering="crispEdges"/>
<path d="M96.5,414 99.5,413.5 101,416 100.3,419.5 98,421.5 95.5,420 96.8,417Z" fill="none" stroke="#000" stroke-width="1" shape-rendering="crispEdges"/>
<path d="M91.3,331.5 93,329.3 95.5,327.8 97.3,327.3 97.2,329 95,330.8 93,332.2Z" fill="#7a2408" stroke="#5a1400" stroke-width="0.6" shape-rendering="crispEdges"/>
<path d="M208.8,257.5 210.2,259 211.8,261.5 212.5,264 211,265.8 208.8,266.5 206.8,266 205.5,264.5 205.8,261.7 206.5,259.5Z" fill="#8e2408" stroke="#5a1000" stroke-width="0.5" shape-rendering="crispEdges"/>
<rect x="206.7" y="259.4" width="1.2" height="1.2" fill="#fff6cc" shape-rendering="crispEdges"/>
<rect x="204.4" y="266.2" width="1.3" height="1.3" fill="#fff6cc" shape-rendering="crispEdges"/>
<rect x="206" y="241.8" width="3.3" height="1" fill="#fff" shape-rendering="crispEdges"/>
<rect x="122.6" y="314.6" width="1.5" height="1.5" fill="#fff" shape-rendering="crispEdges"/>
<rect x="130" y="312.6" width="1.5" height="1.5" fill="#fff" shape-rendering="crispEdges"/>
<rect x="255.2" y="362.5" width="1.6" height="1.6" fill="#fff" shape-rendering="crispEdges"/>
<g class="ml"><text x="89" y="134.3" textLength="38.3" lengthAdjust="spacingAndGlyphs" fill="#000" stroke="#000" stroke-width="0.35">Val d&#39;Aran</text>
<text x="55" y="171" textLength="55" lengthAdjust="spacingAndGlyphs" fill="#000" stroke="#000" stroke-width="0.35">Alta Ribagorça</text>
<text x="126.7" y="162" textLength="51.6" lengthAdjust="spacingAndGlyphs" fill="#000" stroke="#000" stroke-width="0.35">Pallars Sobirà</text>
<text x="207.2" y="193.2" textLength="33.8" lengthAdjust="spacingAndGlyphs" fill="#000" stroke="#000" stroke-width="0.35">Cerdanya</text>
<text x="161.7" y="211.7" textLength="34.3" lengthAdjust="spacingAndGlyphs" fill="#000" stroke="#000" stroke-width="0.35">Alt Urgell</text>
<text x="89.3" y="235.7" textLength="50" lengthAdjust="spacingAndGlyphs" fill="#000" stroke="#000" stroke-width="0.35">Pallars Jussà</text>
<text x="214" y="244.8" textLength="38" lengthAdjust="spacingAndGlyphs" fill="#000" stroke="#000" stroke-width="0.35">Berguedà</text>
<text x="166.7" y="260.7" textLength="34" lengthAdjust="spacingAndGlyphs" fill="#3a0000" stroke="#3a0000" stroke-width="0.35">Solsonès</text>
<text x="268" y="210" textLength="30" lengthAdjust="spacingAndGlyphs" fill="#000" stroke="#000" stroke-width="0.35">Ripollès</text>
<text x="348.8" y="211.2" textLength="47.2" lengthAdjust="spacingAndGlyphs" fill="#3a0000" stroke="#3a0000" stroke-width="0.35">Alt Empordà</text>
<text x="299.2" y="229.2" textLength="32.8" lengthAdjust="spacingAndGlyphs" fill="#000" stroke="#000" stroke-width="0.35">Garrotxa</text>
<text x="336" y="238.8" textLength="24" lengthAdjust="spacingAndGlyphs" fill="#000" stroke="#000" stroke-width="0.35">Pla de</text>
<text x="334" y="248" textLength="28" lengthAdjust="spacingAndGlyphs" fill="#000" stroke="#000" stroke-width="0.35">l&#39;Estany</text>
<text x="268.8" y="267.2" textLength="24" lengthAdjust="spacingAndGlyphs" fill="#000" stroke="#000" stroke-width="0.35">Osona</text>
<text x="338" y="269.2" textLength="28" lengthAdjust="spacingAndGlyphs" fill="#000" stroke="#000" stroke-width="0.35">Gironès</text>
<text x="376" y="278.8" textLength="51.2" lengthAdjust="spacingAndGlyphs" fill="#000" stroke="#000" stroke-width="0.35">Baix Empordà</text>
<text x="320" y="295.2" textLength="30.8" lengthAdjust="spacingAndGlyphs" fill="#000" stroke="#000" stroke-width="0.35">La Selva</text>
<text x="216.8" y="304" textLength="22" lengthAdjust="spacingAndGlyphs" fill="#3a0000" stroke="#3a0000" stroke-width="0.35">Bages</text>
<text x="275.2" y="322.8" textLength="20.8" lengthAdjust="spacingAndGlyphs" fill="#3a0000" stroke="#3a0000" stroke-width="0.35">Vallès</text>
<text x="275.2" y="332" textLength="28.236" lengthAdjust="spacingAndGlyphs" fill="#3a0000" stroke="#3a0000" stroke-width="0.35">Oriental</text>
<text x="240" y="344.8" textLength="40" lengthAdjust="spacingAndGlyphs" fill="#3a0000" stroke="#3a0000" stroke-width="0.35">Vallès Occ</text>
<text x="308" y="344" textLength="32" lengthAdjust="spacingAndGlyphs" fill="#000" stroke="#000" stroke-width="0.35">Maresme</text>
<text x="86.7" y="276" textLength="30.6" lengthAdjust="spacingAndGlyphs" fill="#3a0000" stroke="#3a0000" stroke-width="0.35">Noguera</text>
<text x="146" y="306.7" textLength="31.3" lengthAdjust="spacingAndGlyphs" fill="#3a0000" stroke="#3a0000" stroke-width="0.35">Segarra</text>
<text x="94.6" y="320.8" textLength="11.655" lengthAdjust="spacingAndGlyphs" fill="#000" stroke="#000" stroke-width="0.35">Pla</text>
<text x="93.5" y="330" textLength="27.7" lengthAdjust="spacingAndGlyphs" fill="#000" stroke="#000" stroke-width="0.35">d&#39;Urgell</text>
<text x="123.5" y="337.8" textLength="21.06" lengthAdjust="spacingAndGlyphs" fill="#3a0000" stroke="#3a0000" stroke-width="0.35">Urgell</text>
<text x="54.3" y="337.3" textLength="23.31" lengthAdjust="spacingAndGlyphs" fill="#3a0000" stroke="#3a0000" stroke-width="0.35">Segrià</text>
<text x="184.3" y="339.3" textLength="19.7" lengthAdjust="spacingAndGlyphs" fill="#1c0818" stroke="#1c0818" stroke-width="0.35">Anoia</text>
<text x="85" y="356.7" textLength="35" lengthAdjust="spacingAndGlyphs" fill="#3a0000" stroke="#3a0000" stroke-width="0.35">Garrigues</text>
<text x="126" y="360.7" textLength="33.3" lengthAdjust="spacingAndGlyphs" fill="#1c0818" stroke="#1c0818" stroke-width="0.35">Conca de</text>
<text x="126" y="370.7" textLength="27.3" lengthAdjust="spacingAndGlyphs" fill="#1c0818" stroke="#1c0818" stroke-width="0.35">Barberà</text>
<text x="151.7" y="376.5" textLength="9.3" lengthAdjust="spacingAndGlyphs" fill="#1c0818" stroke="#1c0818" stroke-width="0.35">Alt</text>
<text x="145.5" y="387.2" textLength="21" lengthAdjust="spacingAndGlyphs" fill="#1c0818" stroke="#1c0818" stroke-width="0.35">Camp</text>
<text x="195.5" y="366.3" textLength="9.2" lengthAdjust="spacingAndGlyphs" fill="#3a0000" stroke="#3a0000" stroke-width="0.35">Alt</text>
<text x="195.5" y="376.3" textLength="30.5" lengthAdjust="spacingAndGlyphs" fill="#3a0000" stroke="#3a0000" stroke-width="0.35">Penedès</text>
<text x="81.7" y="396.7" textLength="25.3" lengthAdjust="spacingAndGlyphs" fill="#1c0818" stroke="#1c0818" stroke-width="0.35">Priorat</text>
<text x="177.3" y="389.3" textLength="15.687" lengthAdjust="spacingAndGlyphs" fill="#3a0000" stroke="#3a0000" stroke-width="0.35">Baix</text>
<text x="177.3" y="399.3" textLength="31.836" lengthAdjust="spacingAndGlyphs" fill="#3a0000" stroke="#3a0000" stroke-width="0.35">Penedès</text>
<text x="275" y="373.3" textLength="40" lengthAdjust="spacingAndGlyphs" fill="#000" stroke="#000" stroke-width="0.35">Barcelonès</text>
<text x="236.7" y="376" textLength="15.687" lengthAdjust="spacingAndGlyphs" fill="#3a0000" stroke="#3a0000" stroke-width="0.35">Baix</text>
<text x="236.7" y="386" textLength="35" lengthAdjust="spacingAndGlyphs" fill="#1a0000" stroke="#1a0000" stroke-width="0.35">Llobregat</text>
<text x="211.7" y="393.3" textLength="23.3" lengthAdjust="spacingAndGlyphs" fill="#1a0000" stroke="#1a0000" stroke-width="0.35">Garraf</text>
<text x="147" y="413.8" textLength="42" lengthAdjust="spacingAndGlyphs" fill="#1a0000" stroke="#1a0000" stroke-width="0.35">Tarragonès</text>
<text x="60" y="407.7" textLength="22.7" lengthAdjust="spacingAndGlyphs" fill="#1c0818" stroke="#1c0818" stroke-width="0.35">Ribera</text>
<text x="58.3" y="417.7" textLength="23.4" lengthAdjust="spacingAndGlyphs" fill="#1c0818" stroke="#1c0818" stroke-width="0.35">d&#39;Ebre</text>
<text x="108.3" y="407.7" textLength="15.687" lengthAdjust="spacingAndGlyphs" fill="#3a0000" stroke="#3a0000" stroke-width="0.35">Baix</text>
<text x="108.3" y="417.7" textLength="23.4" lengthAdjust="spacingAndGlyphs" fill="#3a0000" stroke="#3a0000" stroke-width="0.35">Camp</text>
<text x="31" y="420" textLength="18.3" lengthAdjust="spacingAndGlyphs" fill="#3a0000" stroke="#3a0000" stroke-width="0.35">Terra</text>
<text x="31" y="430" textLength="13.896" lengthAdjust="spacingAndGlyphs" fill="#3a0000" stroke="#3a0000" stroke-width="0.35">Alta</text>
<text x="42.7" y="462.3" textLength="34.6" lengthAdjust="spacingAndGlyphs" fill="#1c0818" stroke="#1c0818" stroke-width="0.35">Baix Ebre</text>
<text x="37.7" y="495" textLength="28.3" lengthAdjust="spacingAndGlyphs" fill="#3a0000" stroke="#3a0000" stroke-width="0.35">Montsià</text></g>
<text x="7" y="32.8" textLength="121.8" lengthAdjust="spacingAndGlyphs" font-size="14" font-weight="normal" fill="#000" stroke="#000" stroke-width="0.3" class="s">AVÍS IMPORTANT</text>
<rect x="7" y="35" width="122" height="1" fill="#000"/>
<text x="7" y="49.5" textLength="471.3" lengthAdjust="spacingAndGlyphs" font-size="14" font-weight="bold" fill="#000" class="s">A PARTIR DE LES 0:00h DEL 26/08/2011 QUEDEN SUSPESES TOTES LES</text>
<text x="7" y="66.5" textLength="545.3" lengthAdjust="spacingAndGlyphs" font-size="14" font-weight="bold" fill="#000" class="s">AUTORITZACIONS PER ACTIVITATS AMB RISC D’INCENDI FORESTAL A TOTES</text>
<text x="7" y="83" textLength="265" lengthAdjust="spacingAndGlyphs" font-size="14" font-weight="bold" fill="#000" class="s">LES COMARQUES AMB PLA ALFA 2 i 3.</text>
<text x="72.7" y="542.7" textLength="515" lengthAdjust="spacingAndGlyphs" font-size="14" font-weight="normal" fill="#000" class="s">Mapa del pla Alfa vigent. S’actualitza cada dia a les 09:30 oficials o puntualment si s’escau.</text>
<text x="398" y="112.5" textLength="87.6" lengthAdjust="spacingAndGlyphs" font-size="7.6" font-weight="normal" fill="#000" stroke="#000" stroke-width="0.3">Generalitat de Catalunya</text>
<text x="398" y="122.1" textLength="138" lengthAdjust="spacingAndGlyphs" font-size="7.6" font-weight="normal" fill="#000" stroke="#000" stroke-width="0.3">Departament d&#39;Agricultura, Ramaderia,</text>
<text x="398" y="131.5" textLength="118.6" lengthAdjust="spacingAndGlyphs" font-size="7.6" font-weight="normal" fill="#000" stroke="#000" stroke-width="0.3">Pesca, Alimentació i Medi Natural</text>
<text x="398" y="141.1" textLength="183.2" lengthAdjust="spacingAndGlyphs" font-size="7.6" font-weight="normal" fill="#000" stroke="#000" stroke-width="0.3">Direcció General del Medi Natural i Biodiversitat</text>
<text x="485.8" y="173" textLength="86.7" lengthAdjust="spacingAndGlyphs" font-size="12.5" font-weight="bold" fill="#148214">agents rurals</text>
<text x="464" y="327.4" textLength="87.6" lengthAdjust="spacingAndGlyphs" font-size="17" font-weight="bold" fill="#000">PLA ALFA</text>
<text x="463" y="348.8" textLength="86.4" lengthAdjust="spacingAndGlyphs" font-size="17" font-weight="bold" fill="#000">26/08/2011</text>
<text x="390.4" y="374.5" textLength="189.5" lengthAdjust="spacingAndGlyphs" font-size="13" font-weight="normal" fill="#000">Nivells activats per comarques</text>
<text x="479.9" y="399.3" textLength="43.2" lengthAdjust="spacingAndGlyphs" font-size="12" font-weight="normal" fill="#000">Nivell 0</text>
<text x="479.9" y="422.2" textLength="43.2" lengthAdjust="spacingAndGlyphs" font-size="12" font-weight="normal" fill="#000">Nivell 1</text>
<text x="479.9" y="444.6" textLength="43.2" lengthAdjust="spacingAndGlyphs" font-size="12" font-weight="normal" fill="#000">Nivell 2</text>
<text x="479.9" y="467.2" textLength="43.2" lengthAdjust="spacingAndGlyphs" font-size="12" font-weight="normal" fill="#000">Nivell 3</text>
<g><rect x="374" y="107" width="18" height="21.3" fill="#7a7a7a"/><clipPath id="lg"><ellipse cx="383" cy="117.7" rx="8.3" ry="10.3"/></clipPath><ellipse cx="383" cy="117.7" rx="9" ry="10.8" fill="#222"/><g clip-path="url(#lg)"><rect x="374" y="107" width="18" height="22" fill="#fff"/><rect x="375.6" y="107" width="3.1" height="22" fill="#000"/><rect x="380" y="107" width="2.1" height="22" fill="#000"/><rect x="383.7" y="107" width="2.1" height="22" fill="#000"/><rect x="387" y="107" width="3.2" height="22" fill="#000"/></g></g>
</svg>
</div></body></html>
